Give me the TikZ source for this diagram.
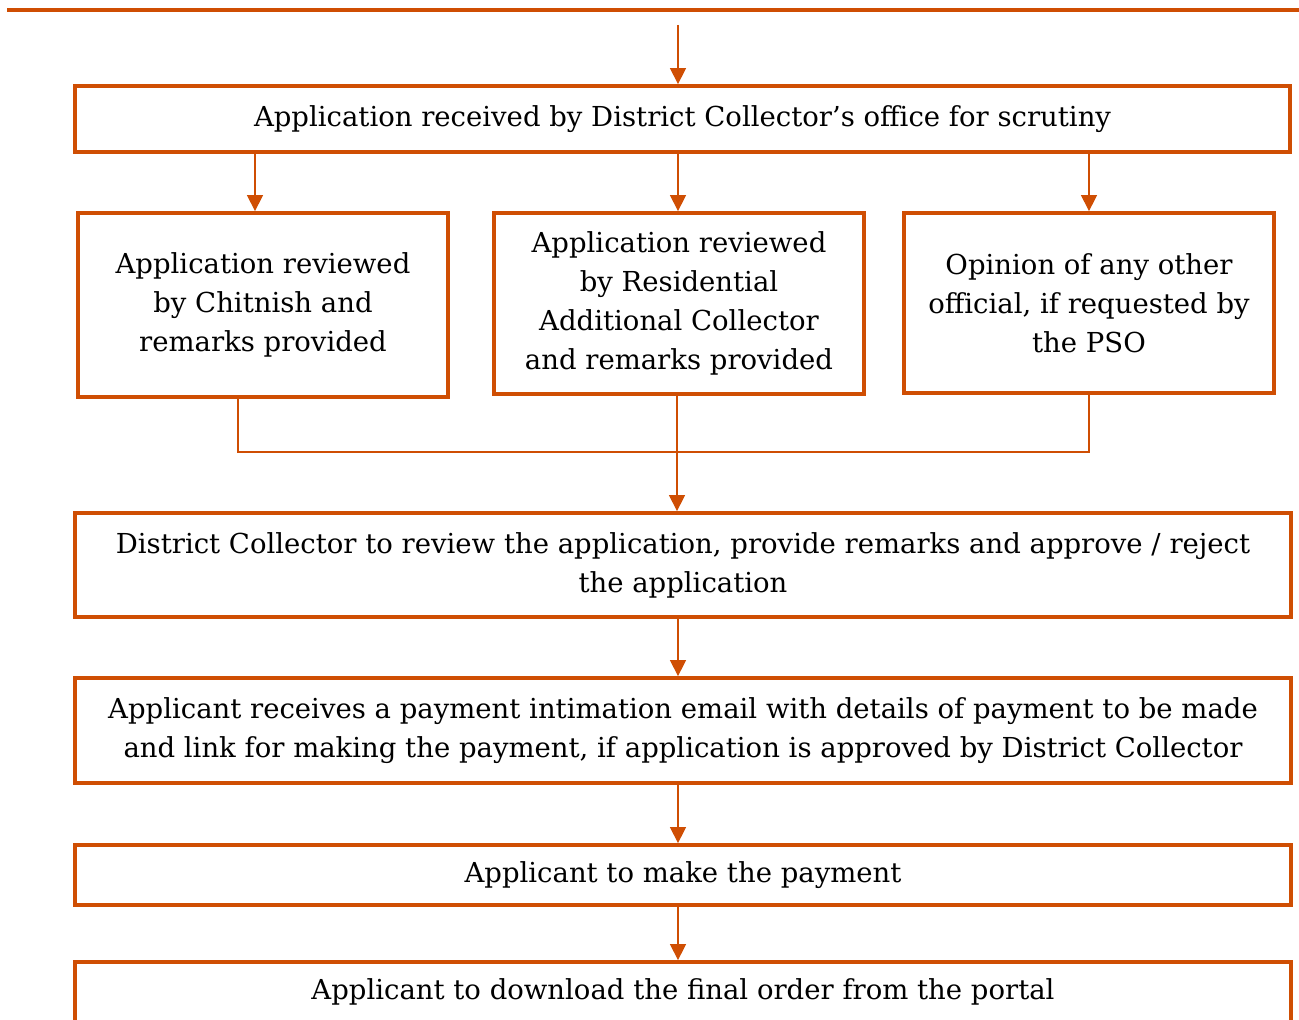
\documentclass[tikz,border=0pt]{standalone}
\usepackage{fontspec}
\setmainfont{DejaVu Serif}
\usetikzlibrary{arrows.meta}
\definecolor{acc}{RGB}{207,78,3}
\tikzset{
  box/.style={draw=acc, line width=1.9pt, inner sep=0pt, align=center, font=\fontsize{13.75pt}{19.5pt}\selectfont},
  arr/.style={draw=acc, line width=0.7pt, -{Triangle[length=8pt,width=8pt]}},
  link/.style={draw=acc, line width=0.7pt}
}
\begin{document}
\begin{tikzpicture}[x=0.5pt,y=-0.5pt]
\useasboundingbox (0,0) rectangle (1299,1020);
\clip (0,0) rectangle (1299,1020);
\draw[acc, line width=2pt] (7,10) -- (1299,10);
\coordinate (start) at (678,25);
\node[box, minimum width=607.5pt, minimum height=33pt] (b1) at (682.5,119) {Application received by District Collector’s office for scrutiny};
\node[box, minimum width=185pt, minimum height=92pt] (b2a) at (263,305) {Application reviewed\\by Chitnish and\\remarks provided};
\node[box, minimum width=185pt, minimum height=90.5pt] (b2b) at (679,303.5) {Application reviewed\\by Residential\\Additional Collector\\and remarks provided};
\node[box, minimum width=185pt, minimum height=90pt] (b2c) at (1089,303) {Opinion of any other\\official, if requested by\\the PSO};
\node[box, minimum width=608pt, minimum height=52pt] (b3) at (683,565) {District Collector to review the application, provide remarks and approve / reject\\the application};
\node[box, minimum width=608pt, minimum height=52.5pt] (b4) at (683,730.5) {Applicant receives a payment intimation email with details of payment to be made\\and link for making the payment, if application is approved by District Collector};
\node[box, minimum width=608pt, minimum height=30pt] (b5) at (683,875) {Applicant to make the payment};
\node[box, minimum width=608pt, minimum height=30pt] (b6) at (683,992) {Applicant to download the final order from the portal};
\coordinate (join) at (677,452);
\draw[arr] (start) -- (b1.north -| start);
\draw[arr] (b1.south -| 255,0) -- (b2a.north -| 255,0);
\draw[arr] (b1.south -| 678,0) -- (b2b.north -| 678,0);
\draw[arr] (b1.south -| b2c.north) -- (b2c.north);
\draw[link] (b2a.south -| 238,0) |- (join) -| (b2c.south);
\draw[link] (b2b.south -| join) -- (join);
\draw[arr] (join) -- (b3.north -| join);
\draw[arr] (b3.south -| 678,0) -- (b4.north -| 678,0);
\draw[arr] (b4.south -| 678,0) -- (b5.north -| 678,0);
\draw[arr] (b5.south -| 678,0) -- (b6.north -| 678,0);
\end{tikzpicture}
\end{document}
